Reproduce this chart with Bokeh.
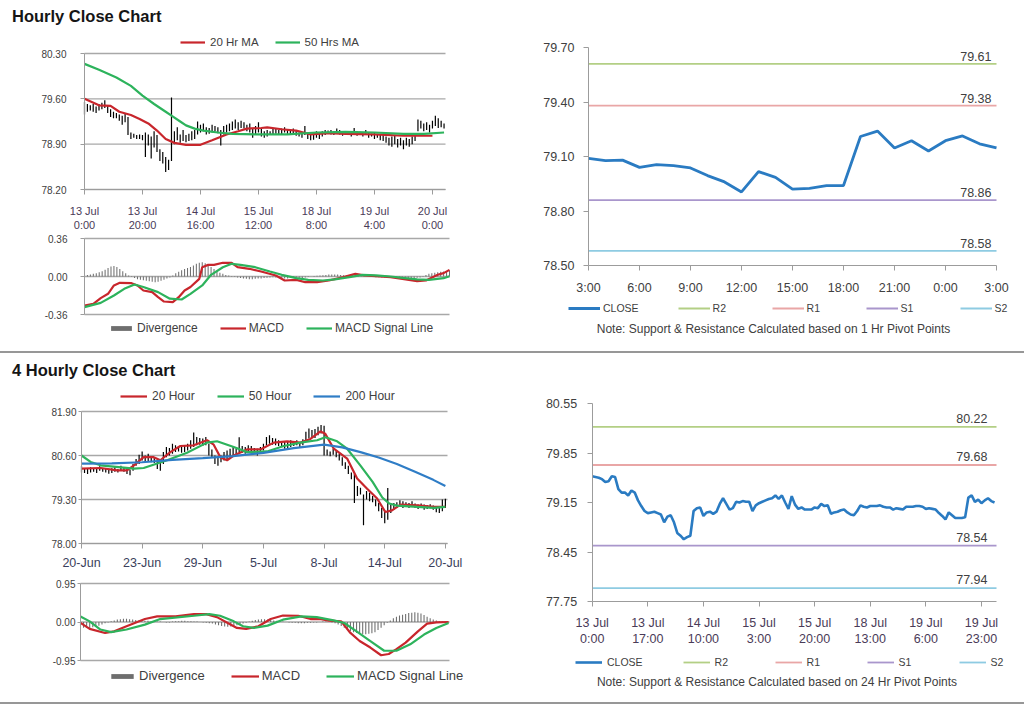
from bokeh.plotting import figure
from bokeh.models import (FixedTicker, Legend, LegendItem, Label, Div, Range1d,
                          NumeralTickFormatter)
from bokeh.layouts import column, row
from bokeh.embed import file_html
from bokeh.resources import INLINE
from bokeh.core.properties import value

# ======================= DATA =======================
# --- Hourly close chart (hourly bars, 13 Jul 0:00 onwards) ---
h_lo = [79.36, 79.40, 79.42, 79.40, 79.38, 79.42, 79.44, 79.46, 79.38, 79.32,
        79.30, 79.30, 79.26, 79.20, 79.24, 79.04, 78.98, 79.00, 78.98, 78.98,
        78.96, 78.70, 78.88, 78.68, 78.85, 78.78, 78.64, 78.60, 78.47, 78.50,
        78.64, 78.90, 78.96, 78.92, 78.95, 78.93, 78.95, 78.96, 78.98, 79.05,
        79.08, 79.10, 79.05, 79.06, 79.08, 79.10, 79.07, 78.88, 79.05, 79.08,
        79.10, 79.12, 79.14, 79.12, 79.15, 79.14, 79.10, 79.08, 79.00, 79.05,
        79.08, 79.02, 79.00, 79.02, 79.04, 79.04, 79.06, 79.04, 79.05, 79.08,
        79.06, 79.04, 79.05, 79.03, 79.02, 79.00, 79.04, 78.98, 78.96, 78.97,
        79.00, 78.98, 79.02, 79.04, 79.06, 79.05, 79.04, 79.06, 79.05, 79.03,
        79.05, 79.04, 79.02, 79.04, 79.03, 79.05, 79.02, 79.04, 79.00, 79.02,
        78.98, 79.00, 78.96, 78.95, 78.92, 78.88, 78.86, 78.90, 78.85, 78.88,
        78.82, 78.88, 78.86, 78.90, 78.95, 79.10, 79.14, 79.10, 79.12, 79.08,
        79.14, 79.18, 79.15, 79.16, 79.14]
h_hi = [79.55, 79.52, 79.50, 79.52, 79.48, 79.52, 79.54, 79.58, 79.50, 79.44,
        79.40, 79.38, 79.36, 79.34, 79.38, 79.32, 79.08, 79.06, 79.04, 79.05,
        79.04, 79.08, 79.05, 79.02, 79.10, 79.04, 78.82, 78.78, 78.70, 78.66,
        79.62, 79.10, 79.16, 79.05, 79.12, 79.04, 79.06, 79.10, 79.12, 79.25,
        79.20, 79.22, 79.16, 79.15, 79.20, 79.18, 79.16, 79.12, 79.18, 79.20,
        79.22, 79.25, 79.28, 79.24, 79.26, 79.24, 79.20, 79.22, 79.14, 79.18,
        79.24, 79.14, 79.10, 79.12, 79.10, 79.14, 79.14, 79.12, 79.14, 79.16,
        79.13, 79.12, 79.14, 79.12, 79.08, 79.08, 79.18, 79.06, 79.05, 79.08,
        79.10, 79.08, 79.10, 79.12, 79.11, 79.12, 79.10, 79.14, 79.12, 79.10,
        79.09, 79.10, 79.08, 79.15, 79.10, 79.09, 79.08, 79.12, 79.08, 79.06,
        79.08, 79.05, 79.05, 79.04, 79.02, 79.00, 79.02, 79.04, 78.98, 79.00,
        78.96, 79.00, 78.98, 79.02, 79.06, 79.28, 79.26, 79.22, 79.24, 79.20,
        79.26, 79.34, 79.30, 79.26, 79.22]
h_ma20_x = [0, 5, 9, 12, 16, 19, 22, 25, 28, 31, 35, 40, 44, 49, 53, 56, 61, 63, 68,
            73, 78, 84, 90, 100, 110, 120]
h_ma20 = [79.60, 79.50, 79.49, 79.40, 79.35, 79.29, 79.22, 79.11, 78.98, 78.92, 78.89,
          78.89, 78.96, 79.05, 79.10, 79.14, 79.15, 79.16, 79.13, 79.11, 79.05, 79.07,
          79.06, 79.05, 79.03, 79.03]
h_ma50_x = [0, 5, 11, 16, 20, 24, 28, 30, 33, 35, 38, 41, 46, 51, 60, 70, 80, 90, 100,
            110, 117, 124]
h_ma50 = [80.14, 80.05, 79.93, 79.80, 79.65, 79.52, 79.40, 79.34, 79.25, 79.19, 79.14,
          79.11, 79.08, 79.06, 79.05, 79.05, 79.08, 79.09, 79.08, 79.06, 79.06, 79.08]
h_tick_labels = ["13 Jul\n0:00", "13 Jul\n20:00", "14 Jul\n16:00", "15 Jul\n12:00",
                 "18 Jul\n8:00", "19 Jul\n4:00", "20 Jul\n0:00"]
h_tick_step = 20
h_y_ticks = [78.20, 78.90, 79.60, 80.30]

# --- Hourly MACD ---
hm_macd_x = [0, 3, 5.5, 8, 10, 12, 16, 18, 20, 23, 25, 27, 30, 32, 34, 36, 39, 40, 42,
             44, 47, 50, 52, 56, 60, 65, 68, 72, 75, 79, 83, 88, 92, 95, 99, 104, 108,
             113, 116, 120, 122, 124]
hm_macd = [-0.275, -0.26, -0.205, -0.164, -0.085, -0.06, -0.063, -0.085, -0.133, -0.148,
           -0.196, -0.237, -0.243, -0.196, -0.133, -0.10, -0.022, 0.088, 0.11, 0.11,
           0.13, 0.13, 0.088, 0.073, 0.047, 0.01, -0.038, -0.032, -0.054, -0.054,
           -0.038, -0.006, 0.025, 0.01, 0.003, -0.006, -0.022, -0.044, -0.038, 0.016,
           0.032, 0.063]
hm_sig_x = [0, 5.5, 10, 13.5, 17, 20, 25, 29, 33, 36, 40, 43, 47, 50, 53, 58, 63, 67,
            72, 76, 81, 85, 90, 94.5, 99, 104, 108, 113, 117, 122, 124]
hm_sig = [-0.29, -0.25, -0.18, -0.117, -0.076, -0.10, -0.148, -0.21, -0.218, -0.164,
          -0.085, 0.016, 0.088, 0.12, 0.11, 0.088, 0.047, 0.016, -0.016, -0.032, -0.038,
          -0.028, -0.006, 0.016, 0.01, 0.0, -0.013, -0.028, -0.032, -0.016, 0.003]
hm_div = [0.01, 0.015, 0.02, 0.025, 0.03, 0.04, 0.05, 0.065, 0.08, 0.095,
          0.10, 0.09, 0.07, 0.05, 0.03, 0.01, -0.005, -0.015, -0.025, -0.03,
          -0.035, -0.04, -0.045, -0.05, -0.055, -0.05, -0.04, -0.03, -0.02, -0.01,
          0.01, 0.03, 0.045, 0.06, 0.07, 0.08, 0.09, 0.105, 0.12, 0.13,
          0.135, 0.125, 0.11, 0.09, 0.07, 0.05, 0.035, 0.025, 0.015, 0.01,
          0.005, -0.005, -0.01, -0.015, -0.02, -0.022, -0.025, -0.025, -0.022, -0.02,
          -0.018, -0.015, -0.012, -0.01, -0.008, -0.01, -0.012, -0.015, -0.018, -0.02,
          -0.015, -0.012, -0.01, -0.012, -0.015, -0.01, -0.005, 0.0, 0.005, 0.008,
          0.01, 0.012, 0.015, 0.018, 0.02, 0.02, 0.018, 0.015, 0.012, 0.01,
          0.012, 0.015, 0.012, 0.008, 0.005, 0.003, 0.0, -0.003, -0.005, -0.006,
          -0.008, -0.01, -0.01, -0.008, -0.006, -0.005, -0.006, -0.008, -0.01, -0.012,
          -0.014, -0.015, -0.014, -0.012, -0.01, 0.005, 0.015, 0.025, 0.03, 0.035,
          0.04, 0.045, 0.048, 0.05, 0.055]
hm_y_ticks = [-0.36, 0.0, 0.36]

# --- 1 Hr pivot chart ---
p1_hours = ["3:00", "6:00", "9:00", "12:00", "15:00", "18:00", "21:00", "0:00", "3:00"]
p1_close = [79.09, 79.077, 79.08, 79.04, 79.055, 79.05, 79.037, 78.995, 78.96, 78.905,
            79.017, 78.985, 78.92, 78.925, 78.94, 78.94, 79.21, 79.24, 79.147, 79.187,
            79.13, 79.187, 79.213, 79.17, 79.147]
p1_levels = [79.61, 79.38, 78.86, 78.58]
level_names = ["R2", "R1", "S1", "S2"]
level_colors = ["#B3CF85", "#E9A6A6", "#A996CC", "#8ECBE2"]
p1_y_ticks = [78.50, 78.80, 79.10, 79.40, 79.70]

# --- 4 Hourly close chart ---
f_lo = [80.10, 80.08, 80.05, 80.10, 80.12, 80.08, 80.15, 80.12, 80.10, 80.06,
        80.08, 80.12, 80.10, 80.15, 80.12, 80.05, 80.02, 80.15, 80.30, 80.35,
        80.45, 80.40, 80.42, 80.40, 80.38, 80.20, 80.15, 80.35, 80.55, 80.60,
        80.65, 80.70, 80.72, 80.68, 80.70, 80.75, 80.80, 80.85, 80.90, 80.92,
        80.88, 80.90, 80.60, 80.55, 80.35, 80.30, 80.40, 80.45, 80.50, 80.55,
        80.60, 80.62, 80.70, 80.68, 80.65, 80.70, 80.72, 80.65, 80.60, 80.68,
        80.75, 80.90, 80.95, 80.92, 80.90, 80.88, 80.85, 80.80, 80.82, 80.85,
        80.88, 80.90, 80.85, 80.90, 81.00, 81.10, 81.15, 81.12, 81.20, 81.25,
        80.60, 80.60, 80.58, 80.62, 80.55, 80.45, 80.30, 80.20, 80.05, 79.90,
        79.20, 79.40, 79.45, 78.54, 79.30, 79.25, 79.22, 79.10, 78.95, 78.75,
        78.60, 78.70, 78.90, 79.00, 79.05, 79.10, 79.05, 79.08, 79.05, 79.08,
        79.05, 79.02, 79.05, 79.00, 79.02, 79.04, 79.00, 78.92, 78.90, 78.95,
        79.05]
f_hi = [80.30, 80.22, 80.20, 80.25, 80.22, 80.20, 80.28, 80.22, 80.20, 80.18,
        80.22, 80.25, 80.20, 80.30, 80.24, 80.20, 80.18, 80.35, 80.50, 80.62,
        80.72, 80.60, 80.65, 80.58, 80.55, 80.42, 80.40, 80.70, 80.85, 80.82,
        80.95, 80.90, 80.88, 80.85, 80.90, 80.95, 81.05, 81.28, 81.15, 81.12,
        81.10, 81.15, 80.95, 80.78, 80.60, 80.55, 80.60, 80.70, 80.75, 80.80,
        80.85, 80.80, 81.14, 80.88, 80.85, 80.90, 80.88, 80.82, 80.80, 80.85,
        80.95, 81.15, 81.20, 81.12, 81.10, 81.05, 81.00, 81.02, 81.00, 81.05,
        81.02, 81.05, 81.00, 81.08, 81.30, 81.40, 81.35, 81.38, 81.45, 81.50,
        81.48, 80.78, 80.72, 80.80, 80.75, 80.65, 80.55, 80.40, 80.30, 80.10,
        80.05, 79.70, 79.65, 79.45, 79.55, 79.50, 79.40, 79.30, 79.20, 79.05,
        78.95, 79.64, 79.15, 79.20, 79.22, 79.28, 79.25, 79.22, 79.20, 79.25,
        79.18, 79.15, 79.18, 79.15, 79.14, 79.16, 79.12, 79.08, 79.05, 79.30,
        79.32]
f_ma20_x = [0, 6.3, 11.8, 15, 17.3, 20.5, 23.8, 26, 29.3, 32.6, 37, 41.4, 43.6, 45.8,
            48, 50.2, 54.6, 59, 63.4, 67.8, 72.2, 75.5, 78.8, 80.4, 83.2, 87.6, 90.9,
            94.2, 97.5, 100.2, 102.4, 105.2, 110.7, 116.2, 120]
f_ma20 = [80.21, 80.23, 80.16, 80.16, 80.31, 80.55, 80.55, 80.46, 80.70, 80.88, 80.90,
          81.05, 80.92, 80.55, 80.46, 80.60, 80.78, 80.78, 80.98, 81.02, 80.98, 81.09,
          81.31, 81.24, 80.80, 80.51, 79.92, 79.62, 79.33, 78.93, 78.98, 79.15, 79.13,
          79.08, 79.08]
f_ma50_x = [0, 3, 6.3, 17.3, 20.5, 28.2, 34.8, 41.4, 44.7, 50.2, 54.6, 61.2, 66.7, 72.2,
            77.7, 80.4, 84.3, 87.6, 92, 96, 99.2, 101.5, 104, 110.7, 116.2, 120]
f_ma50 = [80.60, 80.41, 80.31, 80.21, 80.23, 80.46, 80.68, 80.98, 81.02, 80.85, 80.70,
          80.72, 80.88, 80.98, 81.05, 81.14, 81.02, 80.80, 80.30, 79.82, 79.36, 79.18,
          79.12, 79.08, 79.05, 79.08]
f_ma200_x = [0, 10, 20, 30, 40, 50, 60, 70, 80, 86, 92, 98, 104, 110, 116, 120]
f_ma200 = [80.36, 80.37, 80.40, 80.47, 80.52, 80.58, 80.68, 80.82, 80.92, 80.84, 80.70,
           80.54, 80.35, 80.12, 79.88, 79.70]
f_tick_labels = ["20-Jun", "23-Jun", "29-Jun", "5-Jul", "8-Jul", "14-Jul", "20-Jul"]
f_tick_step = 20
f_y_ticks = [78.00, 79.30, 80.60, 81.90]

# --- 4 Hourly MACD ---
fm_macd_x = [0, 3, 8, 11, 15, 21, 25, 31, 37, 41, 44.5, 48, 51, 54, 58, 62, 66, 71, 75,
             78, 81, 85, 88, 91, 94.5, 98, 100.5, 103, 106, 110, 113, 116, 120]
fm_macd = [-0.02, -0.17, -0.27, -0.23, -0.105, 0.073, 0.137, 0.137, 0.194, 0.194, 0.12,
           -0.024, -0.146, -0.17, -0.105, 0.073, 0.16, 0.154, 0.073, 0.073, 0.032, 0.016,
           -0.27, -0.47, -0.63, -0.82, -0.79, -0.67, -0.51, -0.23, -0.04, -0.008, 0.0]
fm_sig_x = [0, 3, 6.5, 10, 15, 21, 26, 31.5, 37, 42, 45.5, 50, 53, 56.5, 61, 66, 72, 77,
            82.5, 86, 90, 94.5, 99, 103, 107.5, 112, 116, 120]
fm_sig = [0.137, 0.016, -0.186, -0.25, -0.186, -0.065, 0.073, 0.113, 0.154, 0.194, 0.154,
          0.016, -0.105, -0.146, -0.089, 0.057, 0.137, 0.12, 0.04, -0.024, -0.23, -0.47,
          -0.71, -0.71, -0.55, -0.31, -0.146, -0.024]
fm_div = [-0.10, -0.14, -0.15, -0.15, -0.13, -0.11, -0.09, -0.06, -0.03, -0.01,
          0.02, 0.04, 0.06, 0.07, 0.08, 0.08, 0.07, 0.06, 0.05, 0.04,
          0.04, 0.03, 0.03, 0.02, 0.02, 0.01, 0.01, 0.00, -0.01, -0.01,
          0.01, 0.02, 0.02, 0.03, 0.03, 0.02, 0.02, 0.01, 0.01, 0.00,
          -0.01, -0.02, -0.03, -0.04, -0.06, -0.08, -0.10, -0.11, -0.12, -0.11,
          -0.10, -0.08, -0.06, -0.04, -0.02, 0.01, 0.03, 0.05, 0.06, 0.07,
          0.07, 0.06, 0.05, 0.04, 0.03, 0.02, 0.01, 0.00, -0.01, -0.02,
          -0.02, -0.03, -0.03, -0.03, -0.02, -0.02, -0.01, -0.01, 0.00, 0.01,
          0.01, 0.00, -0.01, -0.03, -0.06, -0.10, -0.14, -0.18, -0.22, -0.25,
          -0.27, -0.29, -0.30, -0.30, -0.29, -0.28, -0.25, -0.20, -0.14, -0.08,
          -0.02, 0.04, 0.09, 0.13, 0.16, 0.18, 0.20, 0.22, 0.23, 0.24,
          0.23, 0.21, 0.17, 0.13, 0.09, 0.06, 0.04, 0.02, 0.01, 0.00,
          0.00]
fm_y_ticks = [-0.95, 0.0, 0.95]

# --- 24 Hr pivot chart (hourly closes) ---
p2_close = [79.52, 79.51, 79.50, 79.48, 79.44, 79.45, 79.52, 79.51, 79.34, 79.29,
            79.29, 79.25, 79.32, 79.29, 79.18, 79.10, 79.03, 79.00, 79.01, 79.02,
            79.00, 78.98, 78.87, 78.95, 78.97, 78.87, 78.72, 78.68, 78.63, 78.66,
            78.68, 79.03, 79.07, 79.08, 78.96, 79.01, 79.02, 78.99, 79.02, 79.13,
            79.21, 79.13, 79.05, 79.07, 79.16, 79.15, 79.17, 79.16, 79.16, 79.03,
            79.11, 79.14, 79.16, 79.18, 79.20, 79.21, 79.25, 79.20, 79.25, 79.15,
            79.06, 79.24, 79.12, 79.06, 79.08, 79.05, 79.05, 79.05, 79.08, 79.07,
            79.13, 79.10, 79.11, 78.99, 79.01, 79.02, 79.04, 79.05, 79.01, 78.98,
            78.97, 79.03, 79.11, 79.09, 79.08, 79.10, 79.10, 79.10, 79.11, 79.09,
            79.08, 79.08, 79.05, 79.07, 79.06, 79.05, 79.09, 79.09, 79.09, 79.10,
            79.10, 79.09, 79.06, 79.07, 79.06, 79.05, 79.00, 78.96, 78.91, 79.01,
            78.97, 78.93, 78.93, 78.93, 78.94, 79.22, 79.25, 79.16, 79.19, 79.14,
            79.18, 79.21, 79.17, 79.15]
p2_tick_labels = ["13 Jul\n0:00", "13 Jul\n17:00", "14 Jul\n10:00", "15 Jul\n3:00",
                  "15 Jul\n20:00", "18 Jul\n13:00", "19 Jul\n6:00", "19 Jul\n23:00"]
p2_tick_step = 17
p2_levels = [80.22, 79.68, 78.54, 77.94]
p2_y_ticks = [77.75, 78.45, 79.15, 79.85, 80.55]

# ======================= STYLE =======================
FONT = "Liberation Sans"
TXT = "#404040"
DATE_TXT = "#4A3B58"
GRID = "#A8A8A8"
AXIS = "#9C9C9C"
RED = "#C8262C"
GREEN = "#2DB35C"
BLUE = "#2F7DC6"
CLOSE_C = "#2A7BC2"
HIST = "#6E6E6E"


def make_fig(box, px_x, dx, px_y, dy):
    """box = (left, top, width, height) of the figure in page pixels; the plot frame
    covers the whole figure, the data box (px_x, px_y) maps to data (dx, dy)."""
    fx0, fy0, fw, fh = box
    (pxa, pxb), (xa, xb) = px_x, dx
    sx = (xb - xa) / (pxb - pxa)
    xr = (xa - (pxa - fx0) * sx, xb + (fx0 + fw - pxb) * sx)
    (pyt, pyb), (yt, yb) = px_y, dy
    sy = (yt - yb) / (pyb - pyt)
    yr = (yb - (fy0 + fh - pyb) * sy, yt + (pyt - fy0) * sy)
    p = figure(width=fw, height=fh, x_range=Range1d(*xr), y_range=Range1d(*yr),
               output_backend="svg", toolbar_location=None, min_border=0, margin=0)
    p.outline_line_color = None
    p.background_fill_color = "white"
    p.border_fill_color = "white"
    p.xgrid.visible = False
    p.ygrid.visible = False
    # axes drawn at fixed data positions, limited to the data box
    p.yaxis.fixed_location = xa
    p.yaxis.bounds = (min(yt, yb), max(yt, yb))
    p.xaxis.fixed_location = yb
    p.xaxis.bounds = (xa, xb)
    p._box = box
    return p


def style_axis(ax, size, color=TXT, tick_out=5, standoff=8):
    ax.axis_line_color = AXIS
    ax.axis_line_width = 1
    ax.major_tick_line_color = AXIS
    ax.major_tick_out = tick_out
    ax.major_tick_in = 0
    ax.minor_tick_line_color = None
    ax.major_label_text_font = FONT
    ax.major_label_text_font_size = f"{size}px"
    ax.major_label_text_color = color
    ax.major_label_standoff = standoff


def y_fixed(p, ticks, size, tick_out, standoff, grid_x=None):
    p.yaxis.ticker = FixedTicker(ticks=ticks)
    p.yaxis.formatter = NumeralTickFormatter(format="0.00")
    style_axis(p.yaxis[0], size, TXT, tick_out, standoff)
    if grid_x is not None:
        # horizontal value gridlines across the plotting area only
        x0, x1 = grid_x
        p.segment(x0=[x0] * len(ticks), y0=ticks, x1=[x1] * len(ticks), y1=ticks,
                  line_color=GRID, line_width=1.3, level="underlay")


def x_labels(p, labels, step, size, color, tick_out, standoff):
    pos = [i * step for i in range(len(labels))]
    p.xaxis.ticker = FixedTicker(ticks=pos)
    p.xaxis.major_label_overrides = {t: lab for t, lab in zip(pos, labels)}
    style_axis(p.xaxis[0], size, color, tick_out, standoff)


def add_legend(p, items, left_px, bottom_px, size, glyph_w, standoff, spacing, glyph_h=12):
    fx0, fy0, fw, fh = p._box
    lg = Legend(items=items, location=(left_px - fx0, fy0 + fh - bottom_px),
                orientation="horizontal", padding=0, margin=0, spacing=spacing,
                glyph_width=glyph_w, glyph_height=glyph_h, label_standoff=standoff,
                label_height=12, label_text_font=FONT, label_text_font_size=f"{size}px",
                label_text_color=TXT, border_line_color=None, background_fill_alpha=0)
    p.add_layout(lg, "center")


def add_note(p, text, cx_px, cy_px):
    fx0, fy0, fw, fh = p._box
    p.add_layout(Label(x=cx_px - fx0, y=fy0 + fh - cy_px, x_units="screen",
                       y_units="screen", text=text, text_font=FONT,
                       text_font_size="12px", text_color=TXT,
                       text_align="center", text_baseline="middle"))


# ======================= FIG 1 : hourly close =======================
n1 = len(h_lo)
idx1 = list(range(n1))
p1 = make_fig((0, 30, 498, 202), (84, 445), (0, 124.5), (53, 189), (80.30, 78.20))
y_fixed(p1, h_y_ticks, 10, 4, 14, grid_x=(0, 124.5))
p1.segment(x0=idx1, y0=h_lo, x1=idx1, y1=h_hi, line_color="black", line_width=1.2)
r20 = p1.line(h_ma20_x, h_ma20, line_color=RED, line_width=2.2)
r50 = p1.line(h_ma50_x, h_ma50, line_color=GREEN, line_width=2.2)
x_labels(p1, h_tick_labels, h_tick_step, 11, DATE_TXT, 5, 10)
add_legend(p1, [LegendItem(label="20 Hr MA", renderers=[r20]),
                LegendItem(label="50 Hrs MA", renderers=[r50])],
           180, 48, 11.5, 25, 5, 16)

# ======================= FIG 2 : hourly MACD =======================
p2 = make_fig((0, 232, 498, 113), (84, 449), (0, 124), (238, 314), (0.36, -0.36))
y_fixed(p2, hm_y_ticks, 10, 4, 13, grid_x=(0, 124))
rd = p2.vbar(x=list(range(len(hm_div))), top=hm_div, bottom=0, width=0.35,
             fill_color=HIST, line_color=None)
rm = p2.line(hm_macd_x, hm_macd, line_color=RED, line_width=2.2)
rs = p2.line(hm_sig_x, hm_sig, line_color=GREEN, line_width=2.2)
p2.xaxis.visible = False
add_legend(p2, [LegendItem(label="Divergence", renderers=[rd]),
                LegendItem(label="MACD", renderers=[rm]),
                LegendItem(label="MACD Signal Line", renderers=[rs])],
           108, 335, 12, 26, 3, 22, glyph_h=6)

# ======================= FIG 3 : 1 Hr pivot =======================
n3 = len(p1_close)
p3 = make_fig((498, 30, 526, 315), (588, 996), (0, n3 - 1), (47, 265), (79.70, 78.50))
lev_r = []
for lv, c in zip(p1_levels, level_colors):
    lev_r.append(p3.line([0, n3 - 1], [lv, lv], line_color=c, line_width=1.8))
rc3 = p3.line(list(range(n3)), p1_close, line_color=CLOSE_C, line_width=2.8)
p3.text(x=[n3 - 1] * len(p1_levels), y=p1_levels,
        text=[f"{v:.2f}" for v in p1_levels], text_font=value(FONT),
        text_font_size="12.5px", text_color=TXT, text_align="right",
        text_baseline="bottom", x_offset=-5, y_offset=-3)
y_fixed(p3, p1_y_ticks, 12.5, 5, 9)
x_labels(p3, p1_hours, 3, 12.5, TXT, 5, 10)
add_legend(p3, [LegendItem(label="CLOSE", renderers=[rc3])] +
           [LegendItem(label=nm, renderers=[r]) for nm, r in zip(level_names, lev_r)],
           568, 314, 10.5, 32, 3, 39)
add_note(p3, "Note: Support & Resistance Calculated based on 1 Hr Pivot Points", 773, 328)

# ======================= FIG 4 : 4 hourly close =======================
n4 = len(f_lo)
idx4 = list(range(n4))
p4 = make_fig((0, 385, 498, 187), (81, 447), (0, 120.7), (411, 543), (81.90, 78.00))
y_fixed(p4, f_y_ticks, 10, 3, 2, grid_x=(0, 120.7))
p4.segment(x0=idx4, y0=f_lo, x1=idx4, y1=f_hi, line_color="black", line_width=1.2)
q20 = p4.line(f_ma20_x, f_ma20, line_color=RED, line_width=2.2)
q50 = p4.line(f_ma50_x, f_ma50, line_color=GREEN, line_width=2.2)
q200 = p4.line(f_ma200_x, f_ma200, line_color=BLUE, line_width=2.2)
x_labels(p4, f_tick_labels, f_tick_step, 12.5, "#3B3F5C", 5, 7)
add_legend(p4, [LegendItem(label="20 Hour", renderers=[q20]),
                LegendItem(label="50 Hour", renderers=[q50]),
                LegendItem(label="200 Hour", renderers=[q200])],
           120, 403, 12, 27, 5, 22)

# ======================= FIG 5 : 4 hourly MACD =======================
p5 = make_fig((0, 572, 498, 118), (80, 449), (0, 120.3), (583, 660), (0.95, -0.95))
y_fixed(p5, fm_y_ticks, 10, 3, 2, grid_x=(0, 120.3))
sd = p5.vbar(x=list(range(len(fm_div))), top=fm_div, bottom=0, width=0.35,
             fill_color=HIST, line_color=None)
sm = p5.line(fm_macd_x, fm_macd, line_color=RED, line_width=2.2)
ss = p5.line(fm_sig_x, fm_sig, line_color=GREEN, line_width=2.2)
p5.xaxis.visible = False
add_legend(p5, [LegendItem(label="Divergence", renderers=[sd]),
                LegendItem(label="MACD", renderers=[sm]),
                LegendItem(label="MACD Signal Line", renderers=[ss])],
           108, 683, 13, 28, 3, 26, glyph_h=6)

# ======================= FIG 6 : 24 Hr pivot =======================
n6 = len(p2_close)
x_end6 = 123.6
p6 = make_fig((498, 385, 526, 305), (591.7, 996), (0, x_end6), (403, 601), (80.55, 77.75))
lev_r6 = []
for lv, c in zip(p2_levels, level_colors):
    lev_r6.append(p6.line([0, x_end6], [lv, lv], line_color=c, line_width=1.8))
rc6 = p6.line(list(range(n6)), p2_close, line_color=CLOSE_C, line_width=2.6)
p6.text(x=[x_end6] * len(p2_levels), y=p2_levels,
        text=[f"{v:.2f}" for v in p2_levels], text_font=value(FONT),
        text_font_size="12.5px", text_color=TXT, text_align="right",
        text_baseline="bottom", x_offset=-9, y_offset=-4)
y_fixed(p6, p2_y_ticks, 12.5, 5, 10)
x_labels(p6, p2_tick_labels, p2_tick_step, 12.5, DATE_TXT, 5, 9)
add_legend(p6, [LegendItem(label="CLOSE", renderers=[rc6])] +
           [LegendItem(label=nm, renderers=[r]) for nm, r in zip(level_names, lev_r6)],
           575, 668, 10.5, 27, 5, 40)
add_note(p6, "Note: Support & Resistance Calculated based on 24 Hr Pivot Points", 776.5, 681)

# ======================= PAGE =======================
TITLE_CSS = ("font-family:'Liberation Sans',Arial,sans-serif;font-weight:bold;"
             "font-size:16.5px;line-height:16px;color:#151515;padding-left:12px;")
LINE = '<div style="height:2px;background:#979797;width:1024px"></div>'

title1 = Div(text=f'<div style="{TITLE_CSS}padding-top:8px">Hourly Close Chart</div>',
             width=1024, height=30, margin=0)
sep1 = Div(text=(f'<div style="padding-top:6px">{LINE}</div>'
                 f'<div style="{TITLE_CSS}padding-top:9px">4 Hourly Close Chart</div>'),
           width=1024, height=40, margin=0)
sep2 = Div(text=f'<div style="padding-top:12px">{LINE}</div>', width=1024, height=16, margin=0)

layout = column(title1,
                row(column(p1, p2, spacing=0), p3, spacing=0),
                sep1,
                row(column(p4, p5, spacing=0), p6, spacing=0),
                sep2, spacing=0)

open("out.html", "w").write(file_html(layout, INLINE))
